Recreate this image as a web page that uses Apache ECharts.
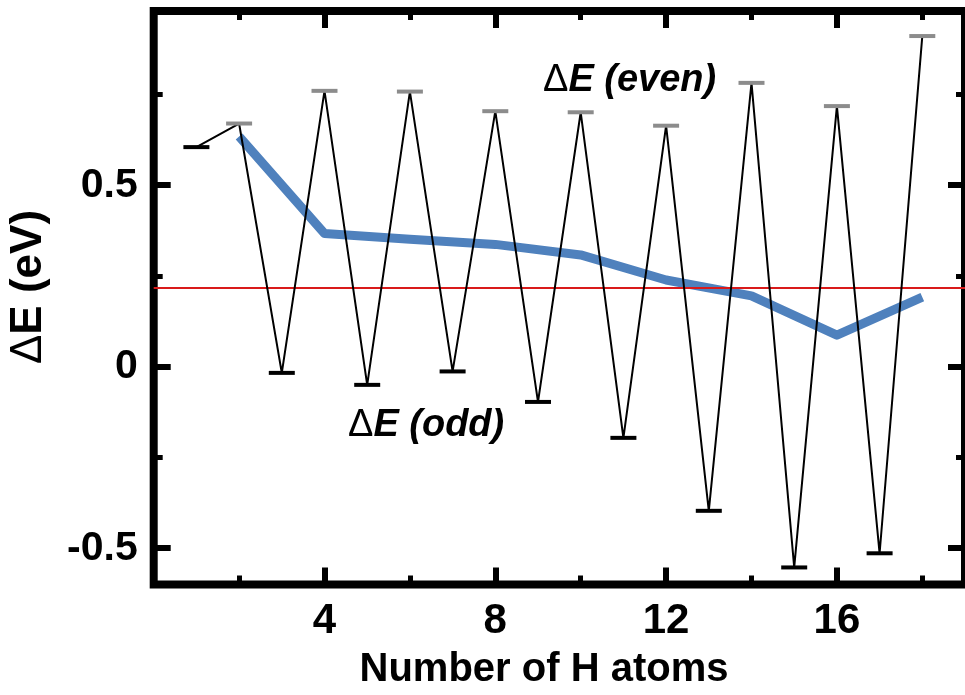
<!DOCTYPE html>
<html>
<head>
<meta charset="utf-8">
<script src="https://cdn.jsdelivr.net/npm/echarts@6/dist/echarts.min.js"></script>
<style>
  html, body { margin: 0; padding: 0; background: #fff; }
  #main { width: 965px; height: 695px; }
</style>
</head>
<body>
<div id="main"></div>
<script>
// number of H atoms
var nH = [1, 2, 3, 4, 5, 6, 7, 8, 9, 10, 11, 12, 13, 14, 15, 16, 17, 18];
// zigzag dE values (even = grey caps, odd = black caps)
var dE = [0.605, 0.670, -0.017, 0.760, -0.050, 0.758, -0.013, 0.704, -0.097,
          0.701, -0.196, 0.664, -0.397, 0.782, -0.553, 0.718, -0.514, 0.911];
// blue curve at even n
var nEven = [2, 4, 6, 8, 10, 12, 14, 16, 18];
var blueVals = [0.634, 0.367, 0.351, 0.337, 0.308, 0.239, 0.195, 0.087, 0.192];
// red reference level
var redLevel = 0.217;
var redX = [0, 19];
// ticks
var xMajor = [4, 8, 12, 16];
var xMinor = [2, 6, 10, 14, 18];
var yMajor = [-0.5, 0, 0.5];
var yMinor = [-0.25, 0.25, 0.75];

var FONT = '"Liberation Sans", Arial, sans-serif';

var myChart = echarts.init(document.getElementById('main'));

function xAx(pos, ticks, len, w, labels) {
    return {
        type: 'value', min: 0, max: 19, position: pos,
        axisLine: { show: false, onZero: false },
        splitLine: { show: false },
        axisTick: { inside: true, length: len, customValues: ticks, lineStyle: { color: '#000', width: w } },
        axisLabel: labels ? {
            customValues: ticks, margin: 16, color: '#000',
            fontFamily: FONT, fontWeight: 'bold', fontSize: 42
        } : { show: false }
    };
}
function yAx(pos, ticks, len, w, labels) {
    return {
        type: 'value', min: -0.6, max: 0.98, position: pos,
        axisLine: { show: false, onZero: false },
        splitLine: { show: false },
        axisTick: { inside: true, length: len, customValues: ticks, lineStyle: { color: '#000', width: w } },
        axisLabel: labels ? {
            customValues: ticks, margin: 16, color: '#000',
            fontFamily: FONT, fontWeight: 'bold', fontSize: 41
        } : { show: false }
    };
}

var zig = nH.map(function (n, i) {
    var grey = (n % 2 === 0);
    return { value: [n, dE[i]], itemStyle: { color: grey ? '#8c8c8c' : '#000' } };
});

var option = {
    animation: false,
    grid: {
        show: true, left: 153.7, right: -5.7, top: 11, bottom: 110.5,
        borderColor: '#000', borderWidth: 8, backgroundColor: 'transparent'
    },
    xAxis: [
        xAx('bottom', xMajor, 17, 6, true),
        xAx('bottom', xMinor, 9, 5, false),
        xAx('top', xMajor, 17, 6, false),
        xAx('top', xMinor, 9, 5, false)
    ],
    yAxis: [
        yAx('left', yMajor, 17, 6, true),
        yAx('left', yMinor, 9, 5, false),
        yAx('right', yMajor, 17, 6, false),
        yAx('right', yMinor, 9, 5, false)
    ],
    series: [
        {
            type: 'line', z: 2,
            data: nEven.map(function (n, i) { return [n, blueVals[i]]; }),
            symbol: 'none',
            lineStyle: { color: '#4f81bd', width: 9, join: 'round' }
        },
        {
            type: 'line', z: 3,
            data: redX.map(function (x) { return [x, redLevel]; }),
            symbol: 'none',
            lineStyle: { color: '#d91a1a', width: 2 }
        },
        {
            type: 'line', z: 4,
            data: zig,
            symbol: 'rect', symbolSize: [26, 4], showAllSymbol: true,
            lineStyle: { color: '#000', width: 2 }
        }
    ],
    graphic: [
        {
            type: 'text', left: 543, top: 62,
            style: {
                text: '{d|Δ}{e|E (even)}',
                rich: {
                    d: { fontFamily: FONT, fontSize: 38, fontWeight: 'normal', fill: '#000' },
                    e: { fontFamily: FONT, fontSize: 38, fontWeight: 'bold', fontStyle: 'italic', fill: '#000' }
                }
            }
        },
        {
            type: 'text', left: 348, top: 407,
            style: {
                text: '{d|Δ}{e|E (odd)}',
                rich: {
                    d: { fontFamily: FONT, fontSize: 38, fontWeight: 'normal', fill: '#000' },
                    e: { fontFamily: FONT, fontSize: 38, fontWeight: 'bold', fontStyle: 'italic', fill: '#000' }
                }
            }
        },
        {
            type: 'text', x: 544, y: 670,
            style: {
                text: 'Number of H atoms', fontFamily: FONT, fontSize: 40, fontWeight: 'bold',
                fill: '#000', align: 'center', verticalAlign: 'middle'
            }
        },
        {
            type: 'text', x: 29, y: 287, rotation: Math.PI / 2,
            style: {
                text: '{d|Δ}{e|E (eV)}', align: 'center', verticalAlign: 'middle',
                rich: {
                    d: { fontFamily: FONT, fontSize: 44, fontWeight: 'normal', fill: '#000' },
                    e: { fontFamily: FONT, fontSize: 44, fontWeight: 'bold', fill: '#000' }
                }
            }
        }
    ]
};
myChart.setOption(option);
window.onresize = myChart.resize;
</script>
</body>
</html>
